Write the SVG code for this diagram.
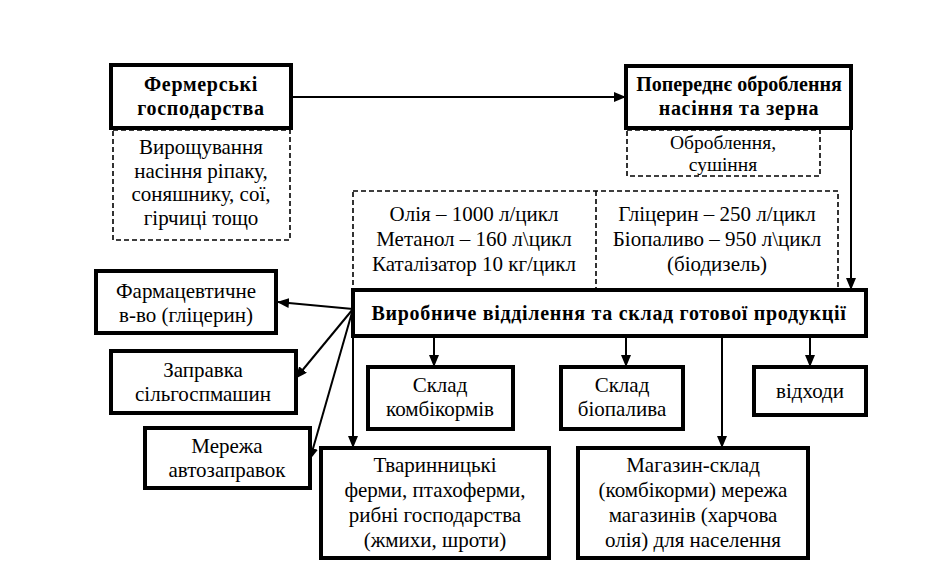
<svg xmlns="http://www.w3.org/2000/svg" width="925" height="578" viewBox="0 0 925 578" font-family="Liberation Serif, DejaVu Serif, serif">
<defs>
<marker id="ah" markerUnits="userSpaceOnUse" markerWidth="12" markerHeight="10" refX="11" refY="5" orient="auto">
<path d="M0,0 L12,5 L0,10 Z" fill="#000"/>
</marker>
<style>
text{font-family:'Liberation Serif','DejaVu Serif',serif}
.t{font-size:21px;fill:#000;text-anchor:middle}
.b{font-weight:bold;font-size:20px;letter-spacing:0.7px}
.s{font-size:19.5px}
.box{fill:#fff;stroke:#000;stroke-width:4}
.dash{fill:none;stroke:#000;stroke-width:1.6;stroke-dasharray:5,3}
.c{fill:none;stroke:#000;stroke-width:2;marker-end:url(#ah)}
</style>
</defs>
<rect width="925" height="578" fill="#fff"/>
<g id="connectors">
<line class="c" x1="291" y1="97" x2="625" y2="97"/>
<line class="c" x1="851" y1="128" x2="851" y2="289"/>
<line class="c" x1="353" y1="309" x2="278" y2="302"/>
<line class="c" x1="353" y1="309" x2="296" y2="378"/>
<line class="c" x1="353" y1="309" x2="310" y2="459"/>
<line class="c" x1="353" y1="336" x2="353" y2="447"/>
<line class="c" x1="434" y1="336" x2="434" y2="366"/>
<line class="c" x1="626" y1="336" x2="626" y2="366"/>
<line class="c" x1="722" y1="336" x2="722" y2="447"/>
<line class="c" x1="810" y1="336" x2="810" y2="366"/>
</g>
<g id="farms">
<rect class="box" x="111" y="65" width="180" height="63"/>
<text class="t b" x="201" y="91">Фермерські</text>
<text class="t b" x="201" y="115">господарства</text>
</g>
<g id="farms-note">
<rect class="dash" x="113" y="130" width="177" height="110"/>
<text class="t" x="201" y="154">Вирощування</text>
<text class="t" x="201" y="178">насіння ріпаку,</text>
<text class="t" x="201" y="201">соняшнику, сої,</text>
<text class="t" x="201" y="225">гірчиці тощо</text>
</g>
<g id="preprocess">
<rect class="box" x="626" y="66" width="225" height="62"/>
<text class="t b" x="739" y="91" style="letter-spacing:0">Попереднє оброблення</text>
<text class="t b" x="739" y="115">насіння та зерна</text>
</g>
<g id="preprocess-note">
<rect class="dash" x="627" y="130" width="193" height="46"/>
<text class="t s" x="723" y="149">Оброблення,</text>
<text class="t s" x="723" y="171">сушіння</text>
</g>
<g id="inputs-outputs">
<rect class="dash" x="353" y="191" width="485" height="98"/>
<line class="dash" x1="596" y1="191" x2="596" y2="289"/>
<text class="t" x="474" y="221">Олія – 1000 л/цикл</text>
<text class="t" x="474" y="246">Метанол – 160 л\цикл</text>
<text class="t" x="474" y="271">Каталізатор 10 кг/цикл</text>
<text class="t" x="717" y="221">Гліцерин – 250 л/цикл</text>
<text class="t" x="717" y="246">Біопаливо – 950 л\цикл</text>
<text class="t" x="717" y="271">(біодизель)</text>
</g>
<g id="production">
<rect class="box" x="353" y="290" width="513" height="46"/>
<text class="t b" x="609" y="320">Виробниче відділення та склад готової продукції</text>
</g>
<g id="pharma">
<rect class="box" x="96" y="271" width="180" height="62"/>
<text class="t" x="186" y="298">Фармацевтичне</text>
<text class="t" x="186" y="322">в-во (гліцерин)</text>
</g>
<g id="fueling">
<rect class="box" x="111" y="351" width="185" height="62"/>
<text class="t" x="203" y="377">Заправка</text>
<text class="t" x="203" y="401">сільгоспмашин</text>
</g>
<g id="stations">
<rect class="box" x="145" y="428" width="165" height="60"/>
<text class="t" x="227" y="453">Мережа</text>
<text class="t" x="227" y="477">автозаправок</text>
</g>
<g id="feed-store">
<rect class="box" x="368" y="367" width="145" height="62"/>
<text class="t" x="440" y="392">Склад</text>
<text class="t" x="440" y="416">комбікормів</text>
</g>
<g id="fuel-store">
<rect class="box" x="561" y="367" width="122" height="62"/>
<text class="t" x="622" y="392">Склад</text>
<text class="t" x="622" y="416">біопалива</text>
</g>
<g id="waste">
<rect class="box" x="754" y="367" width="112" height="48"/>
<text class="t" x="810" y="398">відходи</text>
</g>
<g id="livestock">
<rect class="box" x="321" y="448" width="228" height="110"/>
<text class="t" x="435" y="472">Тваринницькі</text>
<text class="t" x="435" y="497">ферми, птахоферми,</text>
<text class="t" x="435" y="522">рибні господарства</text>
<text class="t" x="435" y="547">(жмихи, шроти)</text>
</g>
<g id="shop">
<rect class="box" x="578" y="448" width="230" height="110"/>
<text class="t" x="693" y="472">Магазин-склад</text>
<text class="t" x="693" y="497">(комбікорми) мережа</text>
<text class="t" x="693" y="522">магазинів (харчова</text>
<text class="t" x="693" y="547">олія) для населення</text>
</g>
</svg>
